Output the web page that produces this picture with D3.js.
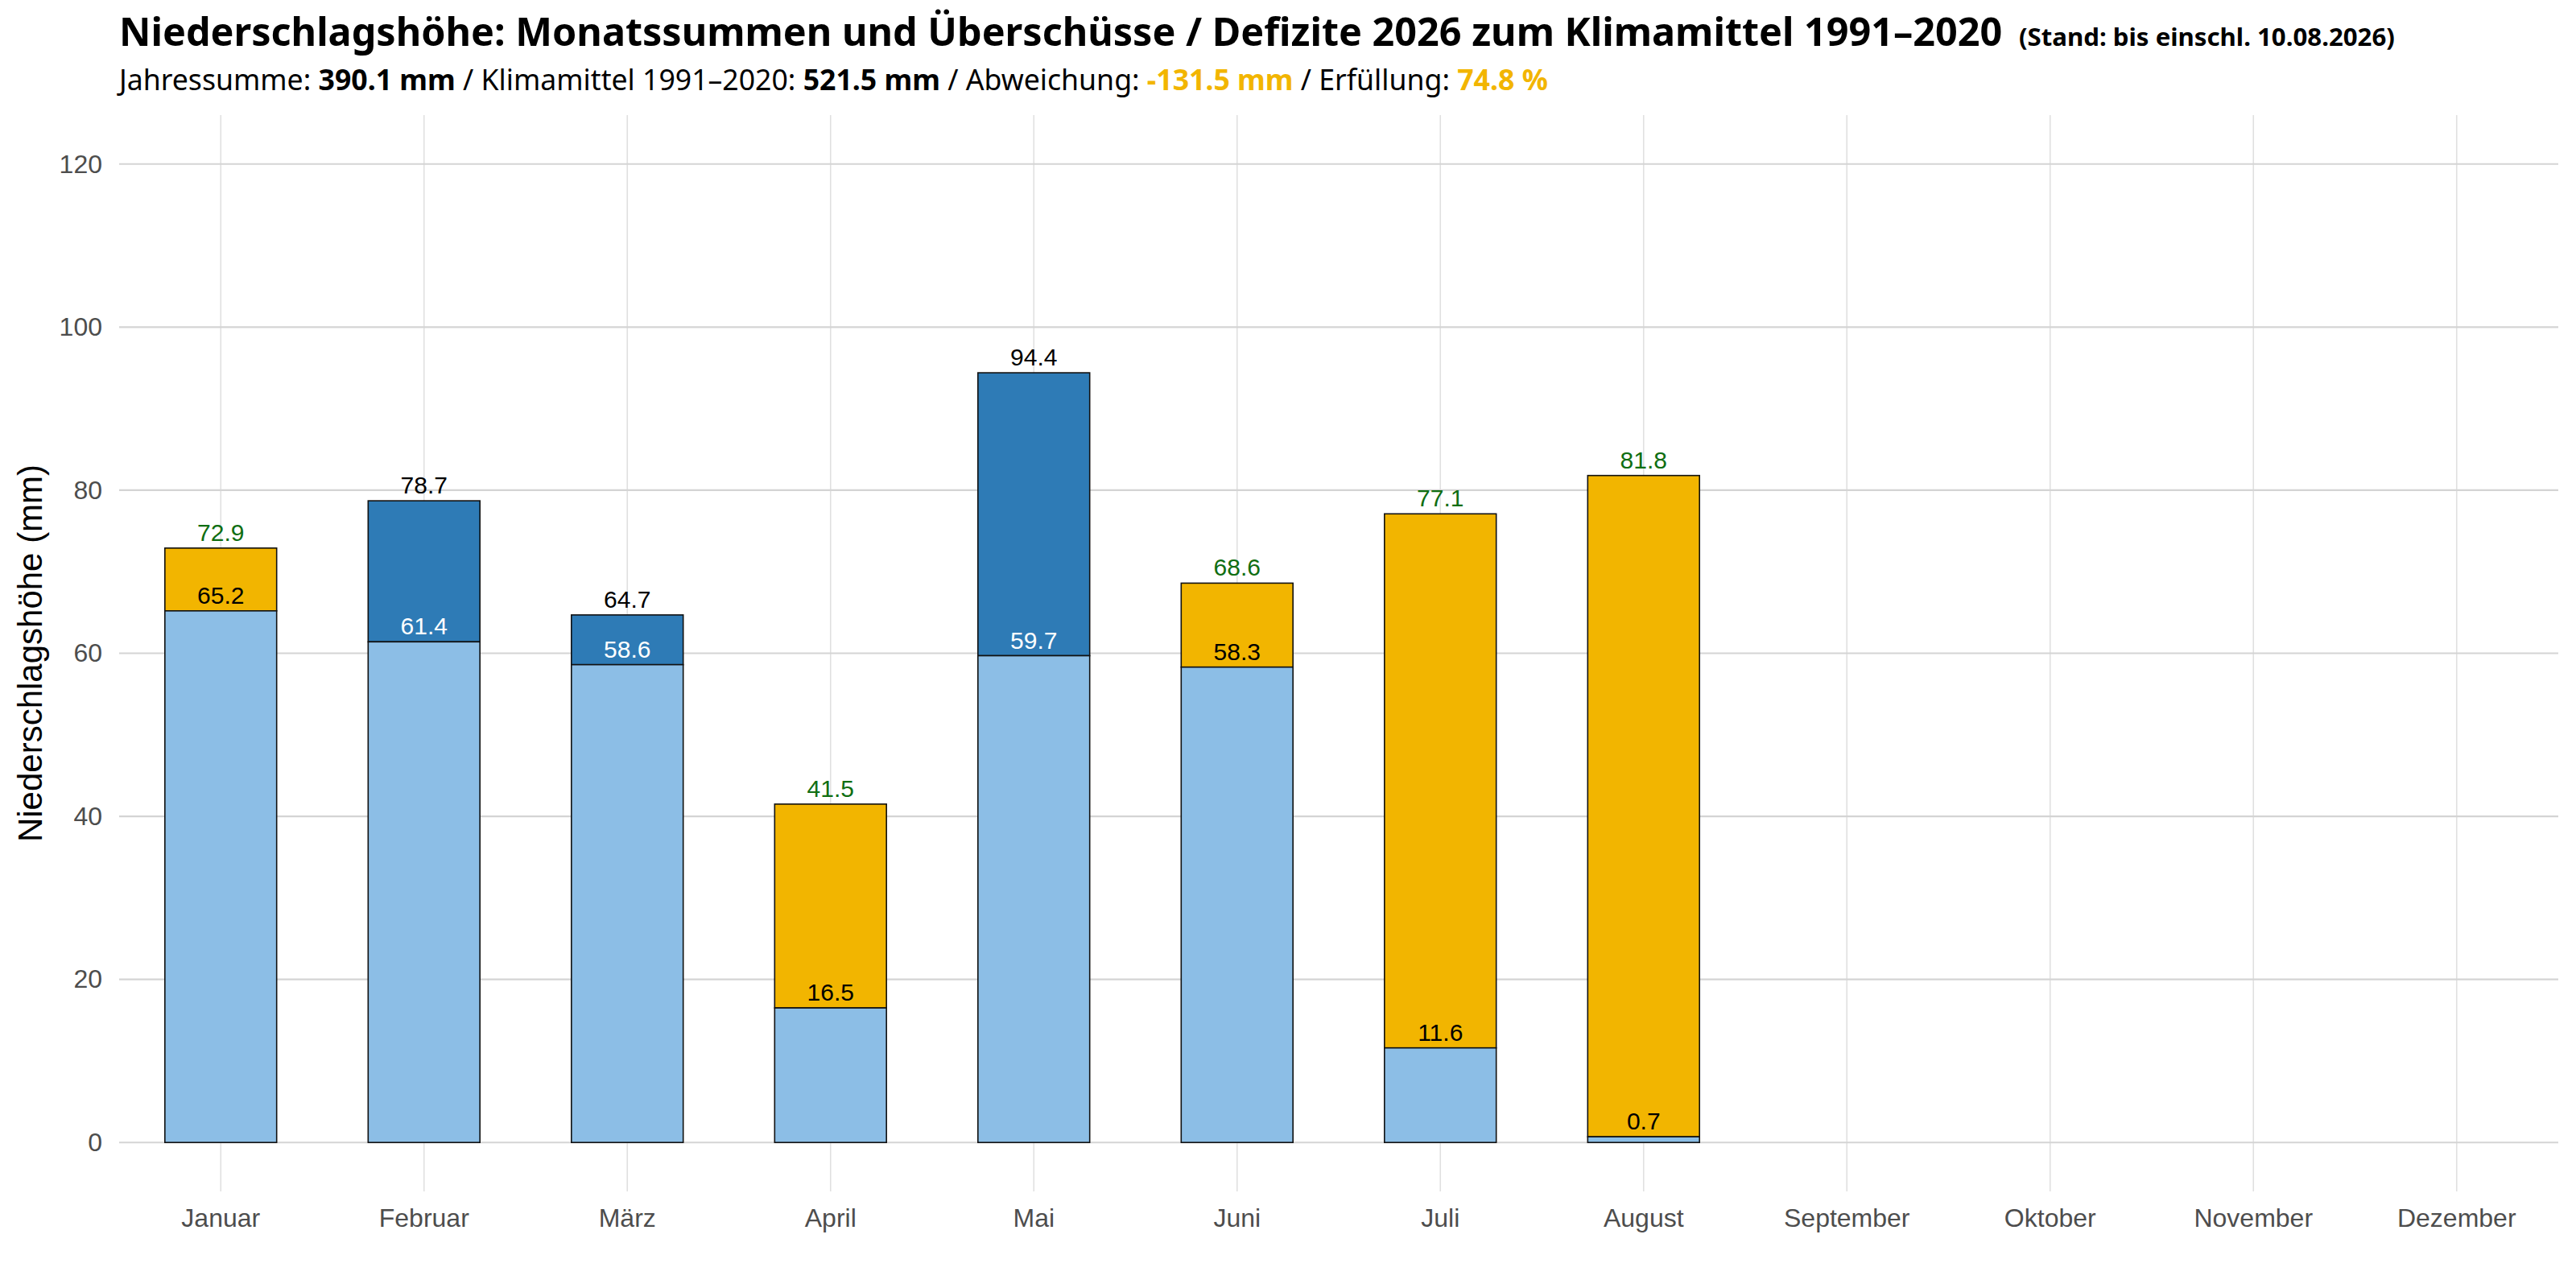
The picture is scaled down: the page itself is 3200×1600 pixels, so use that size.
<!DOCTYPE html>
<html>
<head>
<meta charset="utf-8">
<script src="https://cdn.jsdelivr.net/npm/d3@7"></script>
<style>
  html, body { margin: 0; padding: 0; background: #fff; }
  svg { display: block; }
</style>
</head>
<body>
<div id="chart"></div>
<script>
// months on the x axis
const months = ['Januar', 'Februar', 'März', 'April', 'Mai', 'Juni',
  'Juli', 'August', 'September', 'Oktober', 'November', 'Dezember'];

// 2026 monthly sums (mm), Jan–Aug
const observed = [65.2, 78.7, 64.7, 16.5, 94.4, 58.3, 11.6, 0.7];

// climate normal 1991–2020 (mm), same months
const normal = [72.9, 61.4, 58.6, 41.5, 59.7, 68.6, 77.1, 81.8];

const yTicks = [0, 20, 40, 60, 80, 100, 120];

// header numbers
const yearSum = '390.1 mm';
const normalSum = '521.5 mm';
const deviation = '-131.5 mm';
const fulfilment = '74.8 %';

const width = 3200, height = 1600;
const panel = { left: 148, right: 3178, top: 143, bottom: 1480 };

const colLight = '#8cbee6';
const colSurplus = '#2e7bb6';
const colDeficit = '#f2b500';
const colGreen = '#0f6e12';
const headFont = '"Noto Sans", Inter, sans-serif';
const bodyFont = '"Liberation Sans", Arial, sans-serif';

const svg = d3.select('#chart').append('svg')
  .attr('width', width)
  .attr('height', height);

const x = d3.scaleBand()
  .domain(months)
  .range([panel.left, panel.right]);

const y = d3.scaleLinear()
  .domain([-6, 126])
  .range([panel.bottom, panel.top]);

const barW = x.bandwidth() * 0.55;

// grid
svg.append('g')
  .selectAll('line')
  .data(months)
  .enter().append('line')
  .attr('x1', d => x(d) + x.bandwidth() / 2)
  .attr('x2', d => x(d) + x.bandwidth() / 2)
  .attr('y1', panel.top)
  .attr('y2', panel.bottom)
  .attr('stroke', '#e0e0e0')
  .attr('stroke-width', 1.6);

svg.append('g')
  .selectAll('line')
  .data(yTicks)
  .enter().append('line')
  .attr('x1', panel.left)
  .attr('x2', panel.right)
  .attr('y1', d => y(d))
  .attr('y2', d => y(d))
  .attr('stroke', '#d4d4d4')
  .attr('stroke-width', 2.2);

// axes (text only)
const yAxis = svg.append('g')
  .attr('transform', `translate(${panel.left},0)`)
  .call(d3.axisLeft(y).tickValues(yTicks).tickSize(0).tickPadding(21));

const xAxis = svg.append('g')
  .attr('transform', `translate(0,${panel.bottom})`)
  .call(d3.axisBottom(x).tickSize(0).tickPadding(21));

[yAxis, xAxis].forEach(ax => {
  ax.select('.domain').remove();
  ax.selectAll('text')
    .style('font-family', bodyFont)
    .style('font-size', '32px')
    .attr('fill', '#4d4d4d');
});

svg.append('text')
  .attr('transform', `translate(52,${(panel.top + panel.bottom) / 2}) rotate(-90)`)
  .attr('text-anchor', 'middle')
  .style('font-family', bodyFont)
  .style('font-size', '42px')
  .attr('fill', '#000')
  .text('Niederschlagshöhe (mm)');

// bars
const rows = observed.map((obs, i) => ({
  month: months[i],
  obs,
  norm: normal[i],
  low: Math.min(obs, normal[i]),
  high: Math.max(obs, normal[i]),
  surplus: obs > normal[i]
}));

const bars = svg.append('g');

bars.selectAll('.upper')
  .data(rows)
  .enter().append('rect')
  .attr('class', 'upper')
  .attr('x', d => x(d.month) + (x.bandwidth() - barW) / 2)
  .attr('width', barW)
  .attr('y', d => y(d.high))
  .attr('height', d => y(d.low) - y(d.high))
  .attr('fill', d => d.surplus ? colSurplus : colDeficit)
  .attr('stroke', '#111')
  .attr('stroke-width', 1.6);

bars.selectAll('.lower')
  .data(rows)
  .enter().append('rect')
  .attr('class', 'lower')
  .attr('x', d => x(d.month) + (x.bandwidth() - barW) / 2)
  .attr('width', barW)
  .attr('y', d => y(d.low))
  .attr('height', d => y(0) - y(d.low))
  .attr('fill', colLight)
  .attr('stroke', '#111')
  .attr('stroke-width', 1.6);

// value labels
const labels = svg.append('g')
  .attr('text-anchor', 'middle')
  .style('font-family', bodyFont)
  .style('font-size', '30px');

labels.selectAll('.top')
  .data(rows)
  .enter().append('text')
  .attr('x', d => x(d.month) + x.bandwidth() / 2)
  .attr('y', d => y(d.high) - 9)
  .attr('fill', d => d.surplus ? '#000' : colGreen)
  .text(d => d.high.toFixed(1));

labels.selectAll('.bottom')
  .data(rows)
  .enter().append('text')
  .attr('x', d => x(d.month) + x.bandwidth() / 2)
  .attr('y', d => y(d.low) - 9)
  .attr('fill', d => d.surplus ? '#fff' : '#000')
  .text(d => d.low.toFixed(1));

// scale a text's font size so it runs to the given width
function fitWidth(sel, size, target) {
  sel.style('font-size', size + 'px');
  const w = sel.node().getComputedTextLength();
  sel.style('font-size', (size * target / w).toFixed(2) + 'px');
}

// header
const title = svg.append('text')
  .attr('x', panel.left)
  .attr('y', 57)
  .style('font-family', headFont)
  .style('font-weight', 700)
  .attr('fill', '#000')
  .text('Niederschlagshöhe: Monatssummen und Überschüsse / Defizite 2026 zum Klimamittel 1991–2020');
fitWidth(title, 44, 2340);

const stand = svg.append('text')
  .attr('x', 2508)
  .attr('y', 57)
  .style('font-family', headFont)
  .style('font-weight', 700)
  .attr('fill', '#000')
  .text('(Stand: bis einschl. 10.08.2026)');
fitWidth(stand, 25, 467);

const sub = svg.append('text')
  .attr('x', panel.left)
  .attr('y', 112)
  .style('font-family', headFont)
  .attr('fill', '#000');

[
  ['Jahressumme: ', 400, null],
  [yearSum, 700, null],
  [' / Klimamittel 1991–2020: ', 400, null],
  [normalSum, 700, null],
  [' / Abweichung: ', 400, null],
  [deviation, 700, colDeficit],
  [' / Erfüllung: ', 400, null],
  [fulfilment, 700, colDeficit]
].forEach(([t, w, c]) => {
  const ts = sub.append('tspan').style('font-weight', w).text(t);
  if (c) ts.attr('fill', c);
});
fitWidth(sub, 30, 1775);
</script>
</body>
</html>
